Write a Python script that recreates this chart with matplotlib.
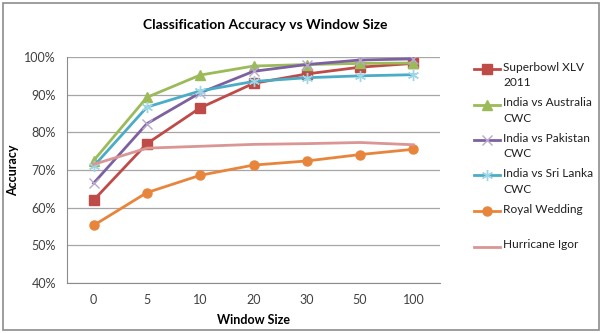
import numpy as np
import matplotlib
matplotlib.use("Agg")
import matplotlib.pyplot as plt
from matplotlib.lines import Line2D
from matplotlib.patches import Rectangle

plt.rcParams['font.family'] = ['Lato', 'DejaVu Sans']

# data
window_sizes = ['0', '5', '10', '20', '30', '50', '100']
superbowl = [62.0, 77.0, 86.5, 93.0, 95.5, 97.3, 98.3]
india_aus = [72.5, 89.3, 95.2, 97.6, 98.0, 98.3, 98.4]
india_pak = [66.5, 82.3, 90.5, 96.2, 98.0, 99.2, 99.5]
india_sl = [71.0, 86.7, 91.0, 93.5, 94.5, 95.0, 95.3]
royal_wedding = [55.3, 64.0, 68.6, 71.3, 72.4, 74.1, 75.5]
hurricane = [71.5, 75.8, 76.3, 76.8, 77.0, 77.3, 76.7]

series = [
    ("Superbowl XLV\n2011", superbowl, '#BE4B48', 's', 6.5),
    ("India vs Australia\nCWC", india_aus, '#9BBB59', '^', 7),
    ("India vs Pakistan\nCWC", india_pak, '#7D60A0', 'x', 7),
    ("India vs Sri Lanka\nCWC", india_sl, '#4BACC6', (6, 2, 0), 8),
    ("Royal Wedding", royal_wedding, '#E8853C', 'o', 6.5),
    ("Hurricane Igor", hurricane, '#D99694', None, 0),
]


def marker_colour(marker, color):
    # the x and star markers are drawn in a paler tint than their line
    if marker == 'x':
        return '#B7A8CF'
    if marker == (6, 2, 0):
        return '#9FD6E6'
    return color


fig = plt.figure(figsize=(6.02, 3.33), dpi=100)
fig.patches.append(Rectangle((3 / 602, 3 / 333), 596 / 602, 327 / 333,
                             transform=fig.transFigure, fill=False,
                             edgecolor='#8C8C8C', linewidth=1.2))

ax = fig.add_axes([67 / 602, 1 - 283 / 333, 373 / 602, 226 / 333])
x = np.arange(len(window_sizes))

for label, vals, color, marker, ms in series:
    mc = marker_colour(marker, color)
    ax.plot(x, vals, color=color, linewidth=2, marker=marker,
            markersize=ms, markerfacecolor=mc,
            markeredgecolor=mc, markeredgewidth=1.0)

ax.set_xlim(-0.5, len(window_sizes) - 0.5)
ax.set_ylim(40, 100)
ax.set_yticks(np.arange(40, 101, 10))
ax.set_yticklabels([f"{v}%" for v in range(40, 101, 10)])
ax.set_xticks(x)
ax.set_xticklabels(window_sizes)
ax.yaxis.grid(True, color='#A6A6A6', linewidth=0.9)
ax.set_axisbelow(True)
for side in ('top', 'right'):
    ax.spines[side].set_visible(False)
ax.spines['left'].set_color('#8C8C8C')
ax.spines['bottom'].set_color('#8C8C8C')
ax.tick_params(length=0, labelsize=9, colors='#404040', pad=8)

ax.set_xlabel("Window Size", fontsize=9, fontweight='bold', labelpad=6)
ax.set_ylabel("Accuracy", fontsize=9, fontweight='bold', labelpad=4)
fig.text(265 / 602, 1 - 25 / 333,
         "Classification Accuracy vs Window Size",
         ha='center', va='center', fontsize=10, fontweight='bold')

# legend drawn by hand so the key lines up with the first text line
y0 = 69
for i, (label, vals, color, marker, ms) in enumerate(series):
    yy = 1 - (y0 + i * 35.5) / 333
    mc = marker_colour(marker, color)
    fig.add_artist(Line2D([474 / 602, 500 / 602], [yy, yy], color=color,
                          linewidth=2, transform=fig.transFigure))
    if marker is not None:
        fig.add_artist(Line2D([487 / 602], [yy], marker=marker, markersize=ms,
                              color=mc, markeredgewidth=1.0,
                              transform=fig.transFigure))
    fig.text(503 / 602, yy + 0.022, label, ha='left', va='top',
             fontsize=8.6, color='#202020', linespacing=1.5)

fig.savefig("out.png", dpi=100)
